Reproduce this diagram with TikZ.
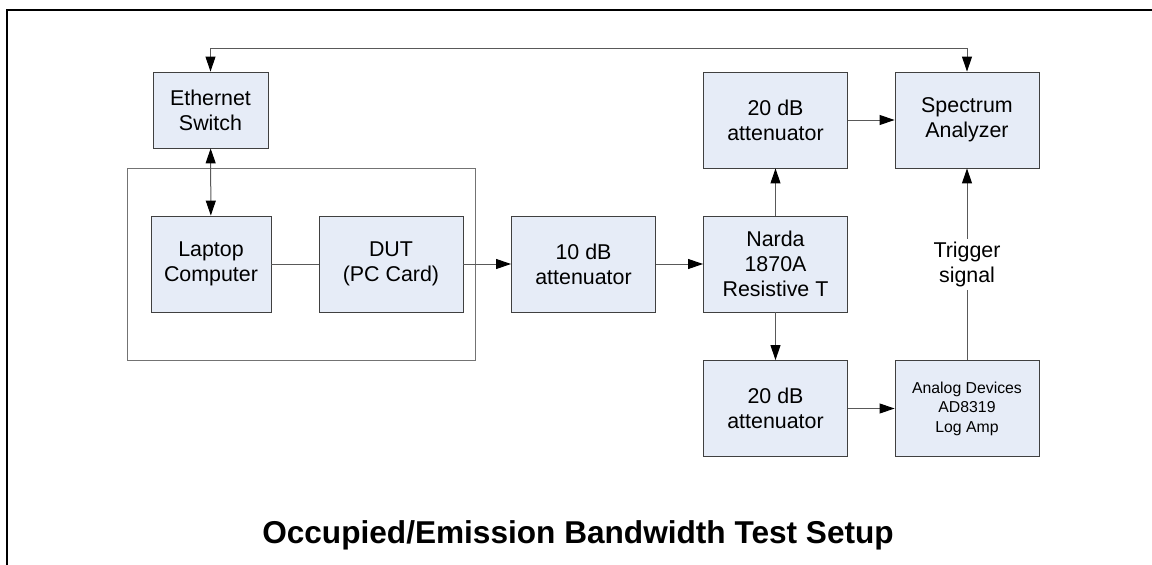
\documentclass[tikz,border=0pt]{standalone}
\usepackage{fontspec}
\setmainfont{Liberation Sans}
\usetikzlibrary{arrows.meta}
\definecolor{blkfill}{RGB}{230,236,247}

\begin{document}
\begin{tikzpicture}[x=1pt,y=-1pt,
  >={Triangle[length=15pt,width=10pt,color=black]},
  blk/.style={draw=black!75, fill=blkfill, line width=0.9pt, minimum width=144pt, minimum height=96pt,
    align=center, inner sep=2pt, font=\fontsize{21.4}{25}\selectfont},
  ln/.style={draw=black!65, line width=1pt},
  a/.style={ln, ->},
  aa/.style={ln, <->}]
\useasboundingbox (0,0) rectangle (1152,565);
\draw[line width=2pt] (7,565) -- (7,10) -- (1152,10);
\draw[draw=black!55, line width=0.9pt] (127,168) rectangle (475,360);
\node[blk, minimum width=115pt, minimum height=76pt] (eth) at (210.5,110) {Ethernet\\Switch};
\node[blk, minimum width=120pt] (lap) at (211,264) {Laptop\\Computer};
\node[blk] (dut) at (391,264) {DUT\\(PC Card)};
\node[blk] (att10) at (583.5,264) {10 dB\\attenuator};
\node[blk] (narda) at (775.5,264) {Narda\\1870A\\Resistive T};
\node[blk] (att20a) at (775.5,120) {20 dB\\attenuator};
\node[blk] (sa) at (967,120) {Spectrum\\Analyzer};
\node[blk] (att20b) at (775.5,408.5) {20 dB\\attenuator};
\node[blk, font=\fontsize{15.8}{19.5}\selectfont] (ad) at (967,408.5) {Analog Devices\\AD8319\\Log Amp};
\coordinate (bus) at (967,48);
\draw[aa] (eth.north) |- (bus) -- (sa.north);
\draw[aa] (eth) -- (lap);
\draw[ln] (lap) -- (dut);
\draw[a] (dut) -- (att10);
\draw[a] (att10) -- (narda);
\draw[a] (narda) -- (att20a);
\draw[a] (narda) -- (att20b);
\draw[a] (att20a) -- (sa);
\draw[a] (att20b) -- (ad);
\draw[a] (ad) -- node[fill=white, align=center, inner sep=3pt, font=\fontsize{21.4}{25}\selectfont] (trig) {Trigger\\signal} (sa);
\node[font=\fontsize{31.6}{36}\selectfont\bfseries, anchor=base] (title) at (578,543) {Occupied/Emission Bandwidth Test Setup};
\end{tikzpicture}
\end{document}
